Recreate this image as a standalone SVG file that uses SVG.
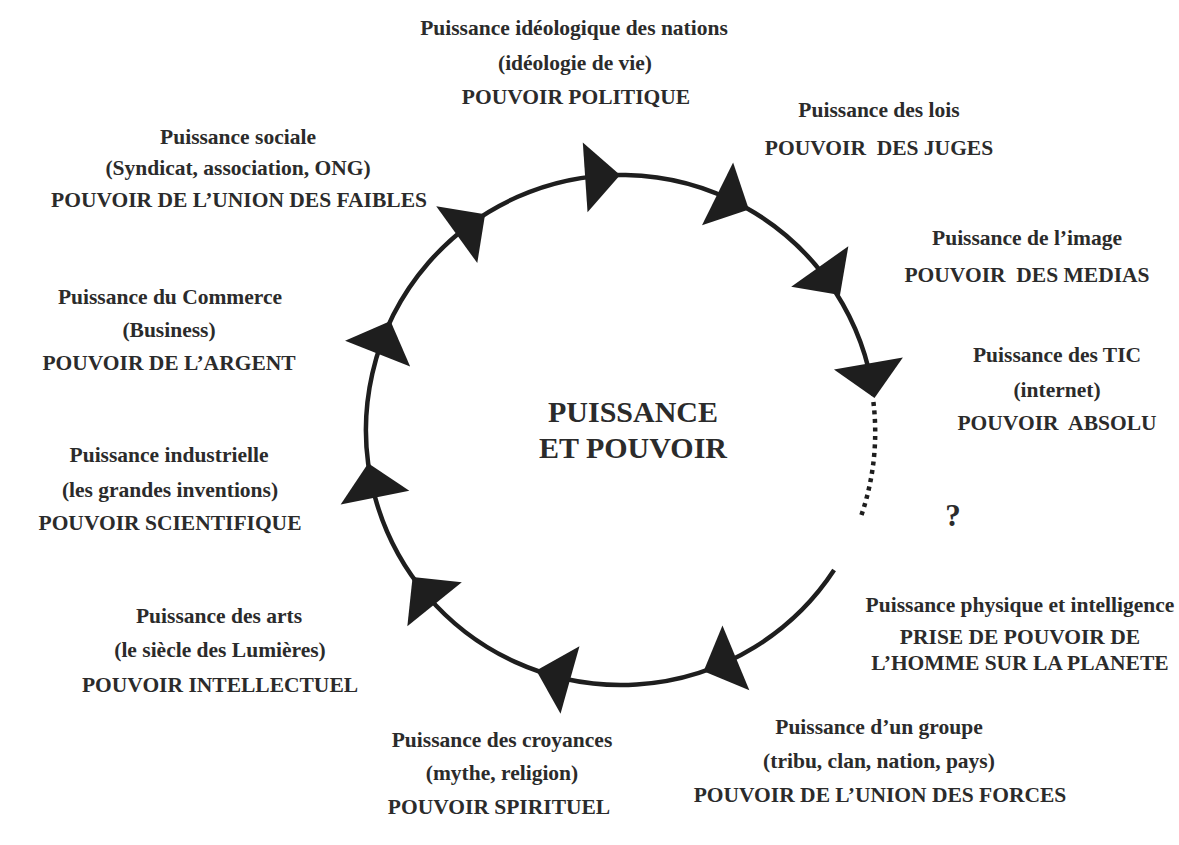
<svg xmlns="http://www.w3.org/2000/svg" xmlns:xlink="http://www.w3.org/1999/xlink" width="1179" height="845" viewBox="0 0 1179 845">
<style>
.t{font-family:"Liberation Serif","Times New Roman",serif;font-weight:bold;font-size:21.5px;fill:#2b2b2b;text-anchor:middle}
.c{font-family:"Liberation Serif","Times New Roman",serif;font-weight:bold;font-size:30px;fill:#2b2b2b;text-anchor:middle}
.q{font-family:"Liberation Serif","Times New Roman",serif;font-weight:bold;font-size:31px;fill:#2b2b2b;text-anchor:middle}
.arc{fill:none;stroke:#1e1e1e;stroke-width:4.5}
.dot{fill:none;stroke:#1e1e1e;stroke-width:4.5;stroke-dasharray:4 4.5}
.ah{fill:#1e1e1e}
</style>
<defs>
<path id="ah" class="ah" d="M0 0 L-35 -35 L-35 35 Z"/>
</defs>
<rect width="1179" height="845" fill="#ffffff"/>
<g id="connectors">
<path class="arc" d="M834.1 570 A255 255 0 1 1 873.7 395.8"/>
<path class="dot" d="M873.4 402 A255 255 0 0 1 859.9 519.3"/>
<use xlink:href="#ah" transform="translate(703.6 671.3) rotate(157.4)"/>
<use xlink:href="#ah" transform="translate(536.3 670.5) rotate(195.7)"/>
<use xlink:href="#ah" transform="translate(412.6 577) rotate(231.1)"/>
<use xlink:href="#ah" transform="translate(368.2 463.3) rotate(258.8)"/>
<use xlink:href="#ah" transform="translate(390.5 321) rotate(291.6)"/>
<use xlink:href="#ah" transform="translate(485.1 214.2) rotate(324.1)"/>
<use xlink:href="#ah" transform="translate(620.1 175) rotate(356.1)"/>
<use xlink:href="#ah" transform="translate(748.9 209.4) rotate(26.4)"/>
<use xlink:href="#ah" transform="translate(840 295) rotate(54.7)"/>
<use xlink:href="#ah" transform="translate(874.5 398) rotate(80)"/>
</g>
<g id="center">
<text class="c" x="633" y="422">PUISSANCE</text>
<text class="c" x="633" y="458">ET POUVOIR</text>
</g>
<g id="ideologique">
<text class="t" x="574" y="35">Puissance idéologique des nations</text>
<text class="t" x="575" y="70">(idéologie de vie)</text>
<text class="t" x="576" y="104">POUVOIR POLITIQUE</text>
</g>
<g id="lois">
<text class="t" x="879" y="117">Puissance des lois</text>
<text class="t" x="879" y="155" xml:space="preserve">POUVOIR  DES JUGES</text>
</g>
<g id="image">
<text class="t" x="1027" y="245">Puissance de l’image</text>
<text class="t" x="1027" y="282" xml:space="preserve">POUVOIR  DES MEDIAS</text>
</g>
<g id="tic">
<text class="t" x="1057" y="362">Puissance des TIC</text>
<text class="t" x="1057" y="397">(internet)</text>
<text class="t" x="1057" y="430" xml:space="preserve">POUVOIR  ABSOLU</text>
</g>
<g id="question">
<text class="q" x="953" y="526">?</text>
</g>
<g id="physique">
<text class="t" x="1020" y="612">Puissance physique et intelligence</text>
<text class="t" x="1020" y="644">PRISE DE POUVOIR DE</text>
<text class="t" x="1020" y="670">L’HOMME SUR LA PLANETE</text>
</g>
<g id="groupe">
<text class="t" x="879" y="734">Puissance d’un groupe</text>
<text class="t" x="879" y="768">(tribu, clan, nation, pays)</text>
<text class="t" x="880" y="802">POUVOIR DE L’UNION DES FORCES</text>
</g>
<g id="croyances">
<text class="t" x="502" y="747">Puissance des croyances</text>
<text class="t" x="502" y="780">(mythe, religion)</text>
<text class="t" x="499" y="814">POUVOIR SPIRITUEL</text>
</g>
<g id="arts">
<text class="t" x="219" y="623">Puissance des arts</text>
<text class="t" x="220" y="657">(le siècle des Lumières)</text>
<text class="t" x="220" y="692">POUVOIR INTELLECTUEL</text>
</g>
<g id="industrielle">
<text class="t" x="169" y="462">Puissance industrielle</text>
<text class="t" x="170" y="497">(les grandes inventions)</text>
<text class="t" x="170" y="530">POUVOIR SCIENTIFIQUE</text>
</g>
<g id="commerce">
<text class="t" x="170" y="304">Puissance du Commerce</text>
<text class="t" x="169" y="337">(Business)</text>
<text class="t" x="169" y="370">POUVOIR DE L’ARGENT</text>
</g>
<g id="sociale">
<text class="t" x="238" y="144">Puissance sociale</text>
<text class="t" x="238" y="175">(Syndicat, association, ONG)</text>
<text class="t" x="239" y="207">POUVOIR DE L’UNION DES FAIBLES</text>
</g>
</svg>
